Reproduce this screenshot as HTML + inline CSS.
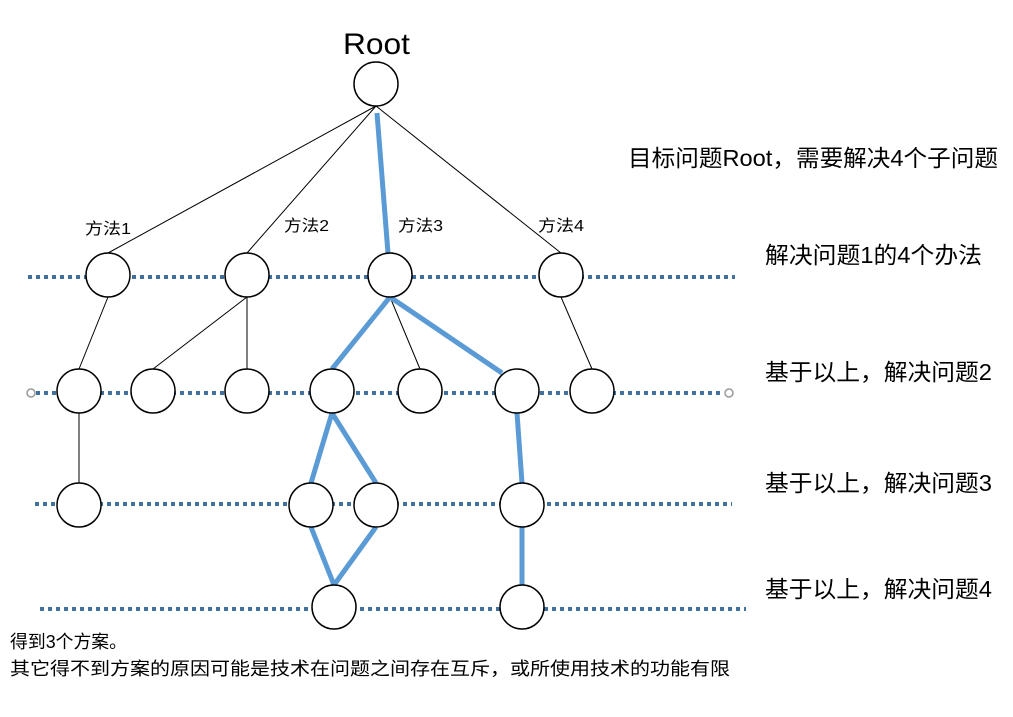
<!DOCTYPE html>
<html><head><meta charset="utf-8"><style>
html,body{margin:0;padding:0;background:#fff;}
svg text{font-family:"Liberation Sans","Noto Sans CJK SC",sans-serif;fill:#000;}
</style></head><body>
<svg width="1013" height="712" viewBox="0 0 1013 712" xmlns="http://www.w3.org/2000/svg">
<g stroke="#41709c" stroke-width="4" stroke-dasharray="4,4">
<line x1="28" y1="277" x2="735" y2="277"/>
<line x1="36" y1="393" x2="724" y2="393"/>
<line x1="35" y1="504" x2="732" y2="504"/>
<line x1="40" y1="609" x2="746" y2="609"/>
</g>
<circle cx="31" cy="393" r="4" fill="#fff" stroke="#999" stroke-width="1.5"/>
<circle cx="729" cy="393" r="4" fill="#fff" stroke="#999" stroke-width="1.5"/>
<g stroke="#000" stroke-width="1">
<line x1="376" y1="106" x2="108" y2="253"/>
<line x1="376" y1="106" x2="247" y2="253"/>
<line x1="376" y1="106" x2="561" y2="253"/>
<line x1="108" y1="297" x2="79" y2="369"/>
<line x1="247" y1="297" x2="153" y2="369"/>
<line x1="247" y1="297" x2="247" y2="369"/>
<line x1="390" y1="297" x2="420" y2="369"/>
<line x1="561" y1="297" x2="592" y2="369"/>
<line x1="79" y1="413" x2="79" y2="483"/>
</g>
<g stroke="#5b9bd5" stroke-width="5">
<line x1="377" y1="113" x2="388" y2="253"/>
<line x1="390" y1="297" x2="332" y2="369"/>
<line x1="390" y1="297" x2="502" y2="373"/>
<line x1="332" y1="413" x2="311" y2="483"/>
<line x1="332" y1="413" x2="376" y2="483"/>
<line x1="517" y1="413" x2="522" y2="483"/>
<line x1="311" y1="527" x2="334" y2="585"/>
<line x1="376" y1="527" x2="334" y2="585"/>
<line x1="522" y1="527" x2="522" y2="585"/>
</g>
<g fill="#fff" stroke="#000" stroke-width="1.5">
<circle cx="376" cy="84" r="22"/>
<circle cx="108" cy="275" r="22"/><circle cx="247" cy="275" r="22"/><circle cx="390" cy="275" r="22"/><circle cx="561" cy="275" r="22"/>
<circle cx="79" cy="391" r="22"/><circle cx="153" cy="391" r="22"/><circle cx="247" cy="391" r="22"/><circle cx="332" cy="391" r="22"/><circle cx="420" cy="391" r="22"/><circle cx="517" cy="391" r="22"/><circle cx="592" cy="391" r="22"/>
<circle cx="79" cy="505" r="22"/><circle cx="311" cy="505" r="22"/><circle cx="376" cy="505" r="22"/><circle cx="522" cy="505" r="22"/>
<circle cx="334" cy="607" r="22"/><circle cx="522" cy="607" r="22"/>
</g>
<text x="343" y="54" font-size="30" textLength="67" lengthAdjust="spacingAndGlyphs">Root</text>
<text x="85" y="234" font-size="16" textLength="46" lengthAdjust="spacingAndGlyphs">方法1</text>
<text x="284" y="231" font-size="16" textLength="45" lengthAdjust="spacingAndGlyphs">方法2</text>
<text x="398" y="231" font-size="16" textLength="45" lengthAdjust="spacingAndGlyphs">方法3</text>
<text x="538" y="231" font-size="16" textLength="46" lengthAdjust="spacingAndGlyphs">方法4</text>
<text x="628" y="166" font-size="23" textLength="370" lengthAdjust="spacingAndGlyphs">目标问题Root，需要解决4个子问题</text>
<text x="765" y="263" font-size="23" textLength="217" lengthAdjust="spacingAndGlyphs">解决问题1的4个办法</text>
<text x="765" y="380" font-size="23" textLength="227" lengthAdjust="spacingAndGlyphs">基于以上，解决问题2</text>
<text x="765" y="491" font-size="23" textLength="227" lengthAdjust="spacingAndGlyphs">基于以上，解决问题3</text>
<text x="765" y="597" font-size="23" textLength="227" lengthAdjust="spacingAndGlyphs">基于以上，解决问题4</text>
<text x="10" y="648" font-size="18" textLength="117" lengthAdjust="spacingAndGlyphs">得到3个方案。</text>
<text x="10" y="675" font-size="18" textLength="720" lengthAdjust="spacingAndGlyphs">其它得不到方案的原因可能是技术在问题之间存在互斥，或所使用技术的功能有限</text>
</svg>
</body></html>
